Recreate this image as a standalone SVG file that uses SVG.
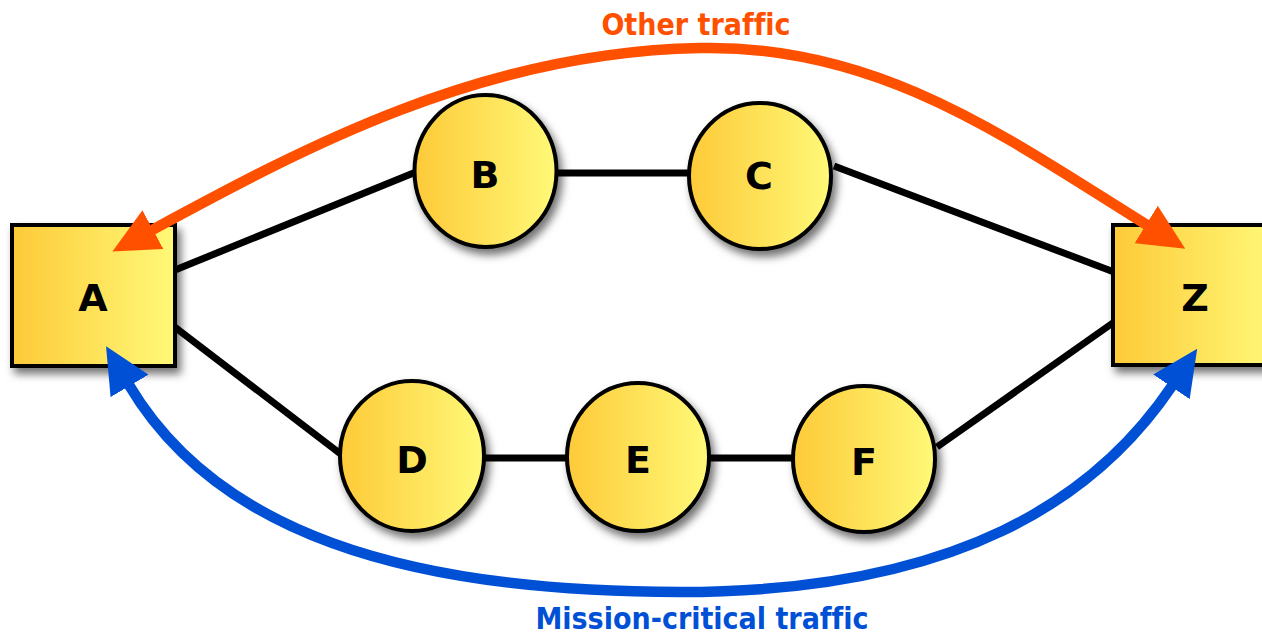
<svg xmlns="http://www.w3.org/2000/svg" width="1262" height="635" viewBox="0 0 1262 635">
<defs>
<linearGradient id="fill" x1="0" y1="0" x2="1" y2="0">
<stop offset="0" stop-color="#FDCA38"/>
<stop offset="1" stop-color="#FFF978"/>
</linearGradient>
<filter id="shadow" x="-20%" y="-20%" width="150%" height="150%">
<feDropShadow dx="4" dy="6" stdDeviation="4" flood-color="#000" flood-opacity="0.55"/>
</filter>
<marker id="arrO" markerUnits="userSpaceOnUse" viewBox="0 0 46 44" markerWidth="46" markerHeight="44" refX="1" refY="22" orient="auto-start-reverse">
<path d="M0,0 L46,22 L0,44 z" fill="#FF5000"/>
</marker>
<marker id="arrB" markerUnits="userSpaceOnUse" viewBox="0 0 46 44" markerWidth="46" markerHeight="44" refX="1" refY="22" orient="auto-start-reverse">
<path d="M0,0 L46,22 L0,44 z" fill="#0050D6"/>
</marker>
</defs>
<style>
.node{fill:url(#fill);stroke:#000;stroke-width:4;filter:url(#shadow)}
.lbl{font-family:"DejaVu Sans",sans-serif;font-weight:bold;font-size:38px;text-anchor:middle;fill:#000}
.edge{stroke:#000;stroke-width:7;fill:none}
.traffic{fill:none;stroke-width:10.5}
.cap{font-family:"DejaVu Sans Condensed","DejaVu Sans",sans-serif;font-weight:bold;font-size:30px;text-anchor:middle;font-variant-ligatures:none}
</style>
<g id="connectors">
<line class="edge" x1="175" y1="270" x2="416" y2="172"/>
<line class="edge" x1="556" y1="173" x2="690" y2="173"/>
<line class="edge" x1="834" y1="166" x2="1114" y2="272"/>
<line class="edge" x1="172" y1="325" x2="342" y2="455"/>
<line class="edge" x1="483" y1="458" x2="568" y2="458"/>
<line class="edge" x1="709" y1="458" x2="794" y2="458"/>
<line class="edge" x1="937" y1="447" x2="1117" y2="320"/>
</g>
<g id="A"><rect class="node" x="12" y="225" width="163" height="141"/><text class="lbl" x="93" y="311">A</text></g>
<g id="Z"><rect class="node" x="1113" y="225" width="163" height="140"/><text class="lbl" x="1195" y="311">Z</text></g>
<g id="B"><ellipse class="node" cx="485.5" cy="171" rx="71" ry="76"/><text class="lbl" x="485" y="188">B</text></g>
<g id="C"><ellipse class="node" cx="760" cy="176" rx="71" ry="73"/><text class="lbl" x="759" y="189">C</text></g>
<g id="D"><ellipse class="node" cx="412" cy="456" rx="72" ry="75"/><text class="lbl" x="412" y="473">D</text></g>
<g id="E"><ellipse class="node" cx="638" cy="457" rx="71" ry="74"/><text class="lbl" x="638" y="473">E</text></g>
<g id="F"><ellipse class="node" cx="864" cy="459" rx="71" ry="73"/><text class="lbl" x="864" y="475">F</text></g>
<g id="traffic">
<path class="traffic" stroke="#FF5000" d="M152 230 C300 150 480 52 700 48 C880 44 1010 140 1147 225" marker-start="url(#arrO)" marker-end="url(#arrO)"/>
<path class="traffic" stroke="#0050D6" d="M129 385 C215 530 400 592 680 592 C960 592 1097 497 1172 386" marker-start="url(#arrB)" marker-end="url(#arrB)"/>
<text class="cap" x="696" y="35" fill="#FF5000">Other traffic</text>
<text class="cap" x="702" y="629" fill="#0050D6">Mission-critical traffic</text>
</g>
</svg>
